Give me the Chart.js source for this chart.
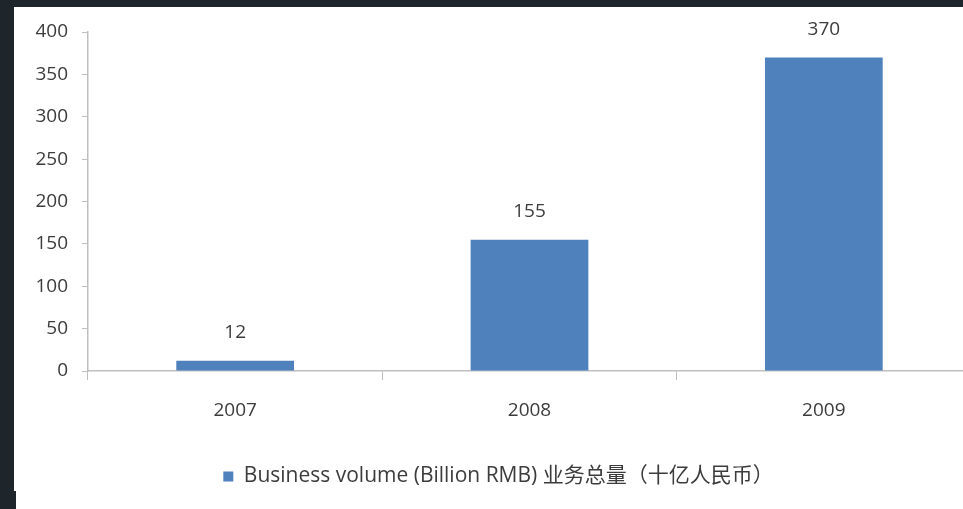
<!DOCTYPE html>
<html>
<head>
<meta charset="utf-8">
<script src="https://cdn.jsdelivr.net/npm/chart.js@4.4.0/dist/chart.umd.min.js"></script>
<style>
    html, body { margin: 0; padding: 0; }
    body { width: 963px; height: 509px; background: #1e252b; position: relative; overflow: hidden; }
    #panel { position: absolute; left: 14px; top: 7px; right: 0; bottom: 0; background: #fff; }
    #notch { position: absolute; left: 0; top: 491px; width: 16px; bottom: 0; background: #1e252b; }
    /* plot runs a little past the right edge, as in the original crop */
    #wrap { position: absolute; left: 0; top: 0; width: 971px; height: 509px; }
</style>
</head>
<body>
<div id="panel"></div>
<div id="notch"></div>
<div id="wrap"><canvas id="volumeChart"></canvas></div>
<script>
// Chart data
const years = ['2007', '2008', '2009'];
const businessVolume = [12, 155, 370];
const seriesLabel = 'Business volume (Billion RMB) 业务总量（十亿人民币）';

const textColor = '#3c3c3c';
const axisColor = '#bfbfbf';
const fontFamily = '"Open Sans", "Noto Sans CJK SC", sans-serif';

// Value labels above each bar
const barValueLabels = {
    id: 'barValueLabels',
    afterDatasetsDraw(chart) {
        const ctx = chart.ctx;
        const meta = chart.getDatasetMeta(0);
        ctx.save();
        ctx.fillStyle = textColor;
        ctx.font = '19px ' + fontFamily;
        ctx.textAlign = 'center';
        ctx.textBaseline = 'middle';
        meta.data.forEach((bar, i) => {
            ctx.fillText(businessVolume[i], bar.x, bar.y - 28);
        });
        ctx.restore();
    }
};

const ctx = document.getElementById('volumeChart').getContext('2d');
new Chart(ctx, {
    type: 'bar',
    data: {
        labels: years,
        datasets: [{
            label: seriesLabel,
            data: businessVolume,
            backgroundColor: '#4f81bd',
            borderWidth: 0,
            barPercentage: 0.4,
            categoryPercentage: 1
        }]
    },
    options: {
        responsive: true,
        maintainAspectRatio: false,
        animation: false,
        layout: { padding: { top: 32, right: 0, bottom: 12, left: 26 } },
        plugins: {
            tooltip: { enabled: false },
            legend: {
                position: 'bottom',
                labels: {
                    boxWidth: 10,
                    boxHeight: 10,
                    color: textColor,
                    font: { family: fontFamily, size: 21 },
                    padding: 9
                }
            }
        },
        scales: {
            x: {
                grid: {
                    display: true,
                    drawOnChartArea: false,
                    offset: true,
                    color: axisColor,
                    tickLength: 9
                },
                border: { color: axisColor, width: 1.5 },
                ticks: {
                    color: textColor,
                    font: { family: fontFamily, size: 19 },
                    padding: 19
                },
                afterFit(scale) { scale.height = 86; }
            },
            y: {
                min: 0,
                max: 400,
                grid: {
                    display: true,
                    drawOnChartArea: false,
                    color: axisColor,
                    tickLength: 6
                },
                border: { color: axisColor, width: 1.5 },
                ticks: {
                    stepSize: 50,
                    color: textColor,
                    font: { family: fontFamily, size: 19 },
                    padding: 14
                },
                afterFit(scale) { scale.width = 62; }
            }
        }
    },
    plugins: [barValueLabels]
});
</script>
</body>
</html>
